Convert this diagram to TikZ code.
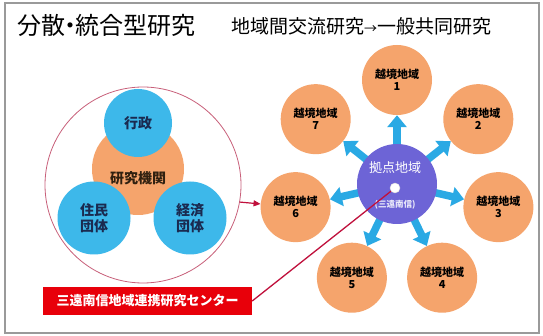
\documentclass[tikz,border=0pt]{standalone}
\usepackage{fontspec}
\setmainfont{Noto Sans CJK JP}
\usetikzlibrary{arrows.meta}
\definecolor{orng}{HTML}{F5A46C}
\definecolor{skyb}{HTML}{3DB8EA}
\definecolor{navyt}{HTML}{1A2A50}
\definecolor{hubp}{HTML}{6D64D6}
\definecolor{arrowb}{HTML}{2AA9E4}
\definecolor{redb}{HTML}{E8000A}
\definecolor{crim}{HTML}{C0103C}
\definecolor{pinkr}{HTML}{C8607A}
\definecolor{framec}{HTML}{9A9A9A}
\begin{document}
\begin{tikzpicture}[x=1pt,y=-1pt,
  every node/.style={inner sep=0pt, align=center},
  bluec/.style={circle, fill=skyb, minimum size=70pt, text=navyt, font=\fontsize{14}{16}\selectfont\bfseries},
  orangec/.style={circle, fill=orng, minimum size=70pt, text=black, font=\fontsize{11}{11}\selectfont\bfseries},
  blarrow/.style={line width=7.5pt, draw=arrowb, -{Triangle[width=19pt,length=12pt]}},
  redarrow/.style={draw=crim, line width=1.2pt, -{Triangle[width=6pt,length=7pt]}}
]
\useasboundingbox (0,0) rectangle (543,336);
\fill[white] (0,0) rectangle (543,336);
\draw[framec, line width=1.5pt] (5,3) rectangle (539,333);

% title
\node[anchor=west, font=\fontsize{24}{26}\selectfont] (title) at (17,25) {分散\kern-7pt・\kern-7pt統合型研究};
\node[anchor=west, font=\fontsize{19}{20}\selectfont] (subtitle) at (231,26) {地域間交流研究{\fontsize{13}{13}\selectfont →}一般共同研究};

% left cluster
\node[circle, draw=pinkr, line width=0.8pt, minimum size=196pt] (big) at (143,185) {};
\node[circle, fill=orng, minimum size=92pt] (inst) at (138,169) {};
\node[bluec, minimum size=68pt] (gov) at (138,123) {行政};
\node[bluec, minimum size=73pt] (res) at (94,218) {住民\\団体};
\node[bluec, minimum size=73pt] (eco) at (190,218) {経済\\団体};
\node[font=\fontsize{14}{16}\selectfont\bfseries, text=black!75!brown] (instt) at (138,178) {研究機関};

% right cluster
\coordinate (hubc) at (397,184);
\foreach \i in {1,...,7}{
  \pgfmathsetmacro{\a}{90-(\i-1)*360/7}
  \node[orangec] (o\i) at ({397+104*cos(\a)},{184-104*sin(\a)}) {越境地域\\[1pt]\i};
}
\foreach \i in {1,...,7}{
  \draw[blarrow] (hubc) -- (o\i);
}
\node[circle, fill=hubp, minimum size=80pt] (hub) at (hubc) {};
\node[text=white, font=\fontsize{13}{14}\selectfont] (hubt) at (395,168) {拠点地域};
\node[text=white!85!hubp, font=\fontsize{8.5}{9}\selectfont\bfseries] (hubs) at (395,205) {(三遠南信)};
\node[circle, fill=white, draw=black!15, minimum size=10pt] (dot) at (395,188) {};

% red label and connectors
\node[fill=redb, minimum width=209pt, minimum height=28pt, text=white, font=\fontsize{13}{14}\selectfont\bfseries] (ctr) at (147.5,301) {三遠南信地域連携研究センター};
\draw[crim, line width=1.3pt] (ctr.east) -- (dot);
\draw[redarrow] (big.-10) -- (o6);
\end{tikzpicture}
\end{document}
